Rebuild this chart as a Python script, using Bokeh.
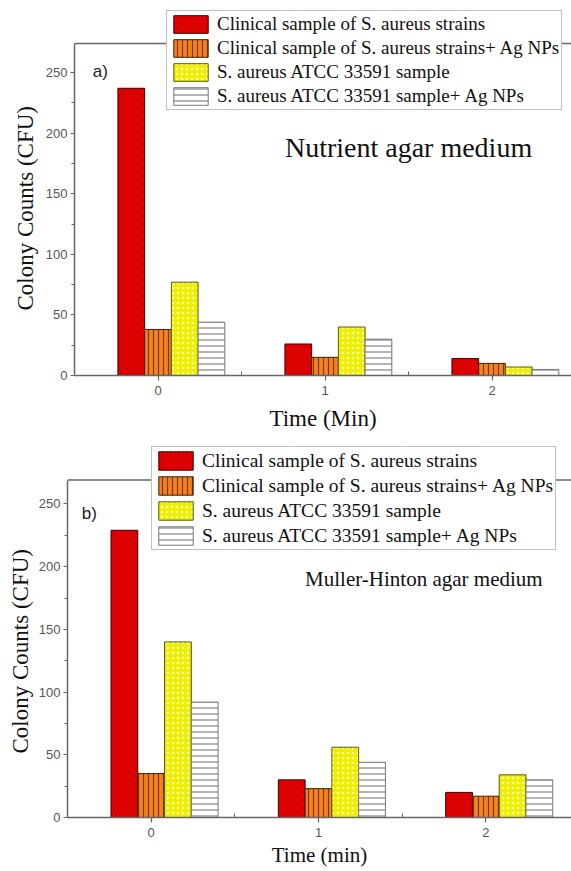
from bokeh.plotting import figure
from bokeh.layouts import column
from bokeh.models import (Range1d, FixedTicker, Legend, LegendItem, Label, Span,
                          ColumnDataSource, Title)
from bokeh.transform import dodge
from bokeh.embed import file_html
from bokeh.resources import INLINE

# ---------------- data ----------------
times = [0, 1, 2]
series_names = [
    "Clinical sample of S. aureus strains",
    "Clinical sample of S. aureus strains+ Ag NPs",
    "S. aureus ATCC 33591 sample",
    "S. aureus ATCC 33591 sample+ Ag NPs",
]

# panel a) Nutrient agar medium
a_clinical = [237, 26, 14]
a_clinical_ag = [38, 15, 10]
a_atcc = [77, 40, 7]
a_atcc_ag = [44, 30, 5]

# panel b) Muller-Hinton agar medium
b_clinical = [229, 30, 20]
b_clinical_ag = [35, 23, 17]
b_atcc = [140, 56, 34]
b_atcc_ag = [92, 44, 30]

y_ticks = [0, 50, 100, 150, 200, 250]
y_minor = [25, 75, 125, 175, 225]
x_ticks = [0, 1, 2]
x_minor = [0.5, 1.5]
x_tick_labels = {0: "0", 1: "1", 2: "2"}

# ---------------- styles ----------------
SERIF = "Liberation Serif"
SANS = "Liberation Sans"
styles = [
    dict(fill_color="#e80000", hatch_pattern="right_diagonal_line", hatch_color="#b80000",
         hatch_scale=8, hatch_weight=1.0, line_color="#400000"),
    dict(fill_color="#f58220", hatch_pattern="vertical_line", hatch_color="#7a3800",
         hatch_scale=5, hatch_weight=1.2, line_color="#402000"),
    dict(fill_color="#eeee00", hatch_pattern="dot", hatch_color="#ffffb0",
         hatch_scale=5, hatch_weight=2, line_color="#5a5a00"),
    dict(fill_color="white", hatch_pattern="horizontal_line", hatch_color="#8c8c8c",
         hatch_scale=6, hatch_weight=1.3, line_color="#777777"),
]
offsets = [-0.16, 0.0, 0.16, 0.32]
bar_w = 0.16


def make_panel(vals, y_top, y_view, x_end, width, height, borders, legend_loc, row_h,
               legend_font, ylab_size, ylab_offset, ylab_standoff, xlab, xlab_size, tag,
               tag_xy, medium, medium_xy, medium_size, xlab_standoff):
    left, right, top, bottom = borders
    p = figure(width=width, height=height, x_range=Range1d(-0.5, x_end),
               y_range=Range1d(0, y_view), toolbar_location=None,
               output_backend="svg", title=None,
               min_border_left=left, min_border_right=right,
               min_border_top=top, min_border_bottom=bottom)
    p.frame_align = False
    p.outline_line_color = None
    p.xgrid.visible = False
    p.ygrid.visible = False
    p.background_fill_color = "white"

    src = ColumnDataSource(dict(t=times, s0=vals[0], s1=vals[1], s2=vals[2], s3=vals[3]))
    items = []
    for i in range(4):
        r = p.vbar(x=dodge("t", offsets[i]), top=f"s{i}", bottom=0, width=bar_w,
                   source=src, line_width=1, **styles[i])
        items.append(LegendItem(label=series_names[i], renderers=[r]))

    # top frame line
    p.add_layout(Span(location=y_top, dimension="width", line_color="#666666",
                      line_width=1.5))

    # axes
    for ax in (p.xaxis[0], p.yaxis[0]):
        ax.axis_line_color = "#666666"
        ax.axis_line_width = 1.5
        ax.major_tick_line_color = "#666666"
        ax.minor_tick_line_color = "#666666"
        ax.major_tick_line_width = 1.2
        ax.minor_tick_line_width = 1.0
        ax.major_label_text_font = SANS
        ax.major_label_text_font_size = "13px"
        ax.major_label_text_color = "#555555"
        ax.axis_label_text_font = SERIF
        ax.axis_label_text_font_style = "normal"
        ax.axis_label_text_color = "#111111"

    p.yaxis.ticker = FixedTicker(ticks=y_ticks, minor_ticks=y_minor)
    p.yaxis.bounds = (0, y_top)
    p.yaxis.major_tick_out = 4
    p.yaxis.major_tick_in = 0
    p.yaxis.minor_tick_out = 3
    p.yaxis.minor_tick_in = 0
    p.yaxis.major_label_standoff = 3

    # y axis title, placed along the bounded axis
    p.add_layout(Title(text="Colony Counts (CFU)", align="left", offset=ylab_offset,
                       text_font=SERIF, text_font_size=ylab_size,
                       text_font_style="normal", text_color="#111111",
                       standoff=ylab_standoff),
                 "left")

    p.xaxis.ticker = FixedTicker(ticks=x_ticks, minor_ticks=x_minor)
    p.xaxis.major_label_overrides = x_tick_labels
    p.xaxis.major_tick_out = 5
    p.xaxis.major_tick_in = 0
    p.xaxis.minor_tick_out = 0
    p.xaxis.minor_tick_in = 4
    p.xaxis.major_label_standoff = 5
    p.xaxis.axis_label = xlab
    p.xaxis.axis_label_text_font_size = xlab_size
    p.xaxis.axis_label_standoff = xlab_standoff

    # legend
    legend = Legend(items=items, location=legend_loc, orientation="vertical",
                    glyph_width=43, glyph_height=row_h, label_height=row_h,
                    spacing=2, padding=2, margin=0, label_standoff=5,
                    label_text_font=SERIF, label_text_font_size=legend_font,
                    label_text_color="#111111",
                    border_line_color="#808080", border_line_width=1.5,
                    background_fill_color="white", background_fill_alpha=1.0)
    p.add_layout(legend, "center")

    p.add_layout(Label(x=tag_xy[0], y=tag_xy[1], text=tag, text_font=SANS,
                       text_font_size="17px", text_color="#222222",
                       text_baseline="alphabetic"))
    p.add_layout(Label(x=medium_xy[0], y=medium_xy[1], text=medium, text_font=SERIF,
                       text_font_size=medium_size, text_color="#111111",
                       text_baseline="alphabetic"))
    return p


pa = make_panel([a_clinical, a_clinical_ag, a_atcc, a_atcc_ag], y_top=274, y_view=305.3,
                x_end=2.476, width=571, height=440, borders=(74, 0, 5, 65),
                legend_loc=(92, 265), row_h=22, legend_font="19px", ylab_size="23px",
                ylab_offset=65, ylab_standoff=9, xlab="Time (Min)", xlab_size="23px",
                tag="a)", tag_xy=(-0.39, 251), medium="Nutrient agar medium",
                medium_xy=(0.76, 188), medium_size="28px", xlab_standoff=8)

pb = make_panel([b_clinical, b_clinical_ag, b_atcc, b_atcc_ag], y_top=269, y_view=296.6,
                x_end=2.512, width=571, height=430, borders=(67, 0, 5, 53),
                legend_loc=(84, 267), row_h=23, legend_font="19.5px", ylab_size="23px",
                ylab_offset=64, ylab_standoff=6, xlab="Time (min)", xlab_size="21px",
                tag="b)", tag_xy=(-0.415, 242), medium="Muller-Hinton agar medium",
                medium_xy=(0.92, 190), medium_size="21px", xlab_standoff=3)

layout = column(pa, pb)
open("out.html", "w").write(file_html(layout, INLINE))
